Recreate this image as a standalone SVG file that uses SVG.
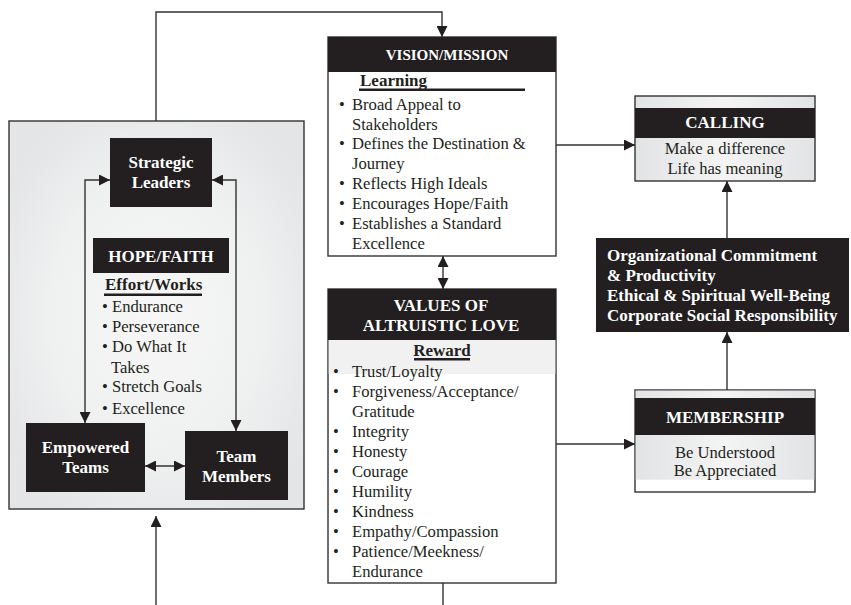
<svg xmlns="http://www.w3.org/2000/svg" width="851" height="605" viewBox="0 0 851 605">
<defs>
<style>
.blk{fill:#231f20}
.hb{font-family:"Liberation Serif","Times New Roman",serif;font-weight:bold;font-size:17px;fill:#fff;text-anchor:middle}
.ub{font-family:"Liberation Serif","Times New Roman",serif;font-weight:bold;font-size:17px;fill:#231f20}
.t{font-family:"Liberation Serif","Times New Roman",serif;font-size:16.6px;fill:#231f20}
.tc{font-family:"Liberation Serif","Times New Roman",serif;font-size:16.6px;fill:#231f20;text-anchor:middle}
.ln{fill:none;stroke:#333;stroke-width:1.4}
.bx{stroke:#333;stroke-width:1.4}
</style>
<marker id="ah" viewBox="0 0 10 10" refX="10" refY="5" markerWidth="11" markerHeight="11" markerUnits="userSpaceOnUse" orient="auto-start-reverse">
<path d="M0,0 L10,5 L0,10 Z" fill="#231f20"/>
</marker>
<radialGradient id="og" cx="0.5" cy="0.5" r="0.6">
<stop offset="0" stop-color="#f7f7f7"/>
<stop offset="0.6" stop-color="#eff0f0"/>
<stop offset="1" stop-color="#e4e5e7"/>
</radialGradient>
<linearGradient id="lg" x1="0" y1="0" x2="1" y2="0">
<stop offset="0" stop-color="#e2e3e5"/>
<stop offset="0.5" stop-color="#f4f4f4"/>
<stop offset="1" stop-color="#e2e3e5"/>
</linearGradient>
</defs>

<g id="outer-box">
<rect x="9" y="121" width="295" height="388" fill="url(#og)" class="bx"/>
</g>

<g id="strategic-leaders">
<rect x="110" y="138" width="102" height="69" class="blk"/>
<text class="hb" x="161" y="168">Strategic</text>
<text class="hb" x="161" y="188">Leaders</text>
</g>

<g id="hope-faith">
<rect x="93" y="238" width="136" height="35" class="blk"/>
<text class="hb" x="161" y="262">HOPE/FAITH</text>
<text class="ub" x="105" y="290">Effort/Works</text>
<rect x="104" y="293.5" width="98" height="2.5" class="blk"/>
<text class="t" x="102" y="312">•</text><text class="t" x="112" y="312">Endurance</text>
<text class="t" x="102" y="332">•</text><text class="t" x="112" y="332">Perseverance</text>
<text class="t" x="102" y="352">•</text><text class="t" x="112" y="352">Do What It</text>
<text class="t" x="111" y="373">Takes</text>
<text class="t" x="102" y="392">•</text><text class="t" x="112" y="392">Stretch Goals</text>
<text class="t" x="102" y="414">•</text><text class="t" x="112" y="414">Excellence</text>
</g>

<g id="empowered-teams">
<rect x="26" y="423" width="119" height="69" class="blk"/>
<text class="hb" x="85.5" y="453">Empowered</text>
<text class="hb" x="85.5" y="473">Teams</text>
</g>

<g id="team-members">
<rect x="185" y="431" width="103" height="69" class="blk"/>
<text class="hb" x="236.5" y="462">Team</text>
<text class="hb" x="236.5" y="482">Members</text>
</g>

<g id="vision-mission">
<rect x="328" y="37" width="228" height="219" fill="#fff" class="bx"/>
<rect x="328" y="37" width="228" height="35" class="blk"/>
<text class="hb" x="447" y="60" style="font-size:15px">VISION/MISSION</text>
<text class="ub" x="360" y="86">Learning</text>
<rect x="359" y="88.5" width="166" height="2.5" class="blk"/>
<text class="t" x="339" y="110">•</text><text class="t" x="352" y="110">Broad Appeal to</text>
<text class="t" x="352" y="130">Stakeholders</text>
<text class="t" x="339" y="149">•</text><text class="t" x="352" y="149">Defines the Destination &amp;</text>
<text class="t" x="352" y="169">Journey</text>
<text class="t" x="339" y="189">•</text><text class="t" x="352" y="189">Reflects High Ideals</text>
<text class="t" x="339" y="209">•</text><text class="t" x="352" y="209">Encourages Hope/Faith</text>
<text class="t" x="339" y="229">•</text><text class="t" x="352" y="229">Establishes a Standard</text>
<text class="t" x="352" y="249">Excellence</text>
</g>

<g id="values">
<rect x="328" y="289" width="228" height="294" fill="#fff" class="bx"/>
<rect x="328.7" y="340" width="226.6" height="34" fill="#f1f1f2"/>
<rect x="328" y="289" width="228" height="51" class="blk"/>
<text class="hb" x="441" y="311">VALUES OF</text>
<text class="hb" x="441" y="331">ALTRUISTIC LOVE</text>
<text class="ub" x="442" y="356" text-anchor="middle">Reward</text>
<rect x="414" y="358" width="56" height="2.5" class="blk"/>
<text class="t" x="333" y="377">•</text><text class="t" x="352" y="377">Trust/Loyalty</text>
<text class="t" x="333" y="397">•</text><text class="t" x="352" y="397">Forgiveness/Acceptance/</text>
<text class="t" x="352" y="417">Gratitude</text>
<text class="t" x="333" y="437">•</text><text class="t" x="352" y="437">Integrity</text>
<text class="t" x="333" y="457">•</text><text class="t" x="352" y="457">Honesty</text>
<text class="t" x="333" y="477">•</text><text class="t" x="352" y="477">Courage</text>
<text class="t" x="333" y="497">•</text><text class="t" x="352" y="497">Humility</text>
<text class="t" x="333" y="517">•</text><text class="t" x="352" y="517">Kindness</text>
<text class="t" x="333" y="537">•</text><text class="t" x="352" y="537">Empathy/Compassion</text>
<text class="t" x="333" y="557">•</text><text class="t" x="352" y="557">Patience/Meekness/</text>
<text class="t" x="352" y="577">Endurance</text>
</g>

<g id="calling">
<rect x="635" y="96" width="180" height="85" fill="url(#lg)" class="bx"/>
<rect x="635" y="108" width="180" height="30" class="blk"/>
<text class="hb" x="725" y="128">CALLING</text>
<text class="tc" x="725" y="154">Make a difference</text>
<text class="tc" x="725" y="174">Life has meaning</text>
</g>

<g id="outcomes">
<rect x="596" y="238" width="253" height="94" class="blk"/>
<text class="ub" x="607" y="261" style="fill:#fff">Organizational Commitment</text>
<text class="ub" x="607" y="281" style="fill:#fff">&amp; Productivity</text>
<text class="ub" x="607" y="301" style="fill:#fff">Ethical &amp; Spiritual Well-Being</text>
<text class="ub" x="607" y="321" style="fill:#fff">Corporate Social Responsibility</text>
</g>

<g id="membership">
<rect x="635" y="390" width="180" height="102" fill="#fff" class="bx"/>
<rect x="635.7" y="390.7" width="178.6" height="89" fill="url(#lg)"/>
<rect x="635" y="398" width="180" height="37" class="blk"/>
<text class="hb" x="725" y="423">MEMBERSHIP</text>
<text class="tc" x="725" y="458">Be Understood</text>
<text class="tc" x="725" y="476">Be Appreciated</text>
</g>

<g id="connectors">
<path class="ln" d="M156,121 V12 H442 V37" marker-end="url(#ah)"/>
<path class="ln" d="M110,180 H85 V423" marker-start="url(#ah)" marker-end="url(#ah)"/>
<path class="ln" d="M212,180 H236 V431" marker-start="url(#ah)" marker-end="url(#ah)"/>
<path class="ln" d="M145,466 H185" marker-start="url(#ah)" marker-end="url(#ah)"/>
<path class="ln" d="M156,605 V516" marker-end="url(#ah)"/>
<path class="ln" d="M443,256 V289" marker-start="url(#ah)" marker-end="url(#ah)"/>
<path class="ln" d="M556,145 H635" marker-end="url(#ah)"/>
<path class="ln" d="M556,444 H635" marker-end="url(#ah)"/>
<path class="ln" d="M727,238 V181" marker-end="url(#ah)"/>
<path class="ln" d="M727,390 V332" marker-end="url(#ah)"/>
<path class="ln" d="M443,583 V605"/>
</g>
</svg>
